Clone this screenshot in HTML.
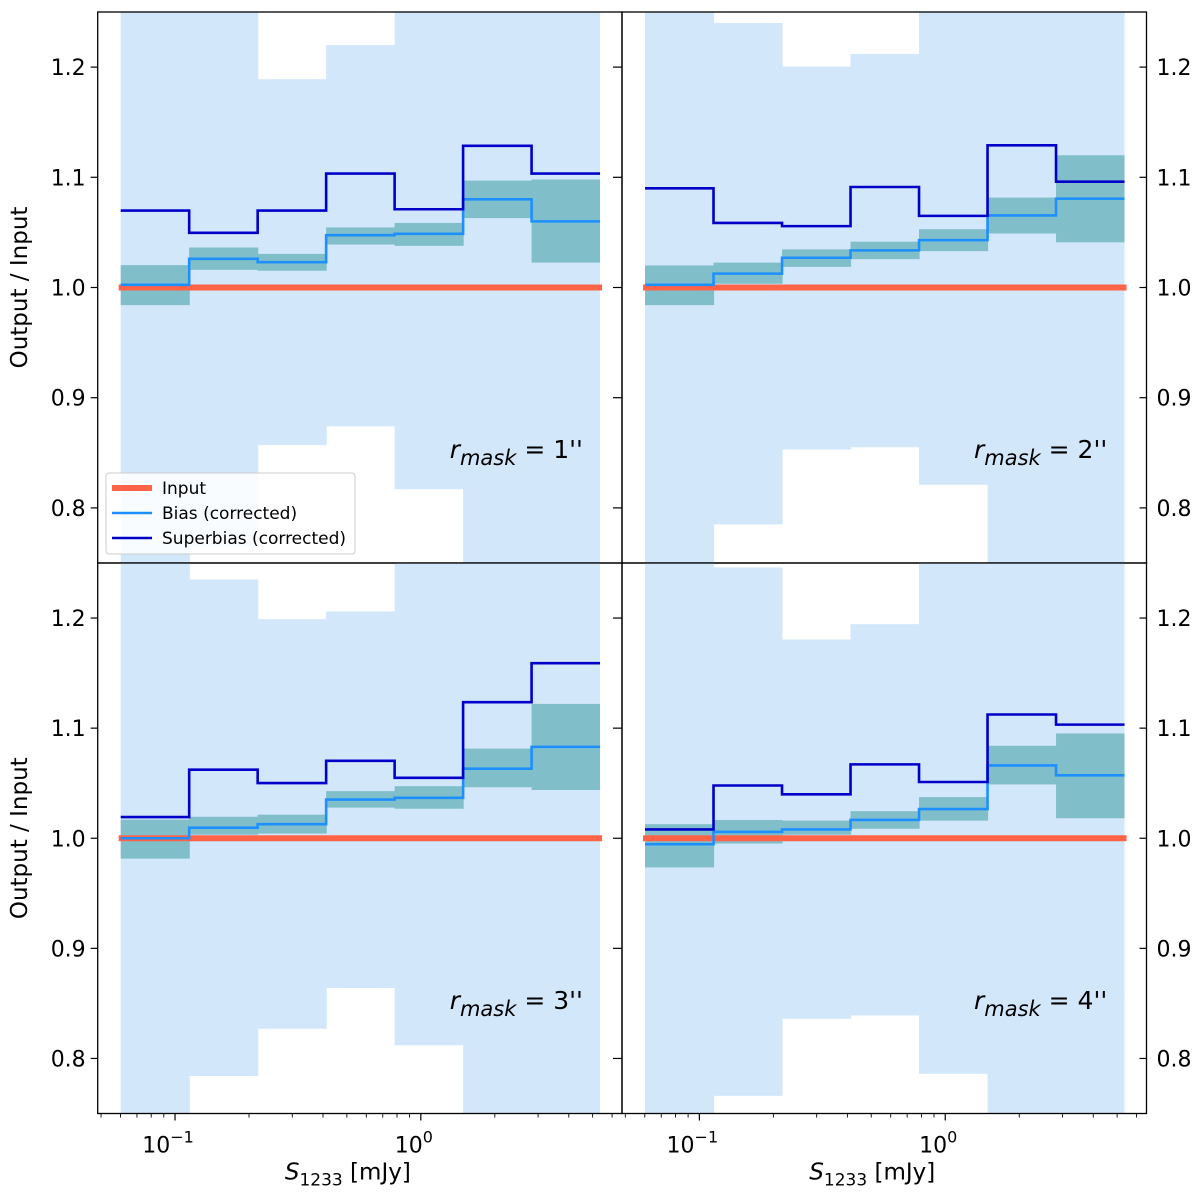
<!DOCTYPE html>
<html><head><meta charset="utf-8"><style>
html,body{margin:0;padding:0;background:#fff;}
svg{display:block;font-family:"DejaVu Sans","Liberation Sans",sans-serif;}
</style></head><body>
<svg id="fig" width="1200" height="1199" viewBox="0 0 1200 1199" xmlns="http://www.w3.org/2000/svg"></svg>
<script>
// bin edges in log10(mJy)
const binEdgesLog = [-1.221,-0.9424,-0.6638,-0.3852,-0.1066,0.172,0.4506,0.7292];
const panelLabels = ["1''","2''","3''","4''"];
// background range (lo, hi) per bin; values outside axis range are clipped
const bgLo1=[0.70,0.765,0.857,0.874,0.817,0.70,0.70];
const bgHi1=[1.30,1.30,1.189,1.220,1.30,1.30,1.30];
const bgLo2=[0.70,0.785,0.853,0.855,0.821,0.70,0.70];
const bgHi2=[1.30,1.240,1.2005,1.212,1.30,1.30,1.30];
const bgLo3=[0.70,0.784,0.827,0.864,0.812,0.70,0.70];
const bgHi3=[1.30,1.235,1.199,1.206,1.30,1.30,1.30];
const bgLo4=[0.70,0.766,0.836,0.839,0.786,0.70,0.70];
const bgHi4=[1.30,1.246,1.1805,1.1945,1.30,1.30,1.30];
// superbias
const sup1=[1.0698,1.0496,1.0698,1.1034,1.071,1.1286,1.1034];
const sup2=[1.090,1.0586,1.0557,1.0912,1.065,1.129,1.096];
const sup3=[1.0192,1.0623,1.0501,1.0703,1.0549,1.1236,1.159];
const sup4=[1.008,1.0479,1.0399,1.0671,1.0511,1.1124,1.1032];
// bias
const bias1=[1.0024,1.026,1.023,1.0475,1.0487,1.080,1.060];
const bias2=[1.0024,1.0126,1.027,1.0337,1.043,1.0654,1.0806];
const bias3=[1.000,1.0096,1.0128,1.0351,1.0367,1.0632,1.083];
const bias4=[0.9946,1.0057,1.008,1.0166,1.0265,1.0661,1.0572];
// bias error band
const bandLo1=[0.984,1.016,1.0152,1.039,1.0378,1.063,1.0226];
const bandHi1=[1.0203,1.0363,1.0305,1.0545,1.0586,1.097,1.098];
const bandLo2=[0.984,1.0034,1.0187,1.0257,1.033,1.049,1.041];
const bandHi2=[1.020,1.0226,1.0346,1.0416,1.0529,1.0816,1.120];
const bandLo3=[0.9815,1.0032,1.0042,1.0278,1.0268,1.0463,1.0438];
const bandHi3=[1.0169,1.0195,1.0214,1.0428,1.0473,1.0814,1.122];
const bandLo4=[0.9735,0.9952,1.0032,1.0086,1.016,1.0489,1.0182];
const bandHi4=[1.0128,1.0166,1.016,1.0246,1.0374,1.084,1.0952];
const yTicks=[0.8,0.9,1.0,1.1,1.2];
const yTickLabels=["0.8","0.9","1.0","1.1","1.2"];
const xMajorLog=[-1,0];
const xMajorLabels=["-1","0"];

const NS="http://www.w3.org/2000/svg";
const svg=document.getElementById('fig');
function el(tag,attrs,parent){const e=document.createElementNS(NS,tag);for(const k in attrs)e.setAttribute(k,attrs[k]);(parent||svg).appendChild(e);return e;}

const YMIN=0.75,YMAX=1.25,XMIN=-1.3146,XMAX=0.8185;
const panels=[
 {x0:97.7,x1:622,y0:12,y1:563,bgLo:bgLo1,bgHi:bgHi1,sup:sup1,bias:bias1,bl:bandLo1,bh:bandHi1,left:true,bottom:false,legend:true},
 {x0:622,x1:1146.5,y0:12,y1:563,bgLo:bgLo2,bgHi:bgHi2,sup:sup2,bias:bias2,bl:bandLo2,bh:bandHi2,left:false,bottom:false},
 {x0:97.7,x1:622,y0:563,y1:1113.5,bgLo:bgLo3,bgHi:bgHi3,sup:sup3,bias:bias3,bl:bandLo3,bh:bandHi3,left:true,bottom:true},
 {x0:622,x1:1146.5,y0:563,y1:1113.5,bgLo:bgLo4,bgHi:bgHi4,sup:sup4,bias:bias4,bl:bandLo4,bh:bandHi4,left:false,bottom:true}
];

panels.forEach((p,pi)=>{
  const g=el('g',{});
  
  
  const cid='clip'+pi;
  const cp=el('clipPath',{id:cid},g);el('rect',{x:p.x0,y:p.y0,width:p.x1-p.x0,height:p.y1-p.y0},cp);
  const X=l=>p.x0+(l-XMIN)/(XMAX-XMIN)*(p.x1-p.x0);
  const Y=v=>p.y0+(YMAX-v)/(YMAX-YMIN)*(p.y1-p.y0);
  const inner=el('g',{'clip-path':'url(#'+cid+')'},g);
  for(let i=0;i<7;i++){
    const ov=(i<6)?0.6:0;
    const r=el('rect',{x:X(binEdgesLog[i]),width:X(binEdgesLog[i+1])-X(binEdgesLog[i])+ov,y:Y(p.bgHi[i]),height:Y(p.bgLo[i])-Y(p.bgHi[i]),fill:'#d3e7fb'},inner);
    
    
  }
  for(let i=0;i<7;i++){
    const ov=(i<6)?0.6:0;
    const r=el('rect',{x:X(binEdgesLog[i]),width:X(binEdgesLog[i+1])-X(binEdgesLog[i])+ov,y:Y(p.bh[i]),height:Y(p.bl[i])-Y(p.bh[i]),fill:'#80bfca'},inner);
    
    
  }
  const inp=el('line',{x1:X(binEdgesLog[0])-2,x2:X(binEdgesLog[7])+2,y1:Y(1),y2:Y(1),stroke:'#ff6347','stroke-width':6},inner);
  
  
  function step(vals,color,name){
    let d='';
    for(let i=0;i<7;i++){d+=(i?'L':'M')+X(binEdgesLog[i])+','+Y(vals[i])+'L'+X(binEdgesLog[i+1])+','+Y(vals[i]);}
    const pa=el('path',{d:d,fill:'none',stroke:color,'stroke-width':2.6},inner);
    
    
  }
  step(p.bias,'#1e8fff','bias-line');
  step(p.sup,'#0000c8','superbias-line');
  const fr=el('rect',{x:p.x0,y:p.y0,width:p.x1-p.x0,height:p.y1-p.y0,fill:'none',stroke:'#000','stroke-width':1.3},g);
  
  
  yTicks.forEach((v,k)=>{
    const y=Y(v);
    if(p.left){
      el('line',{x1:p.x0-7,x2:p.x0,y1:y,y2:y,stroke:'#000','stroke-width':1.2},g);
      const t=el('text',{x:p.x0-12,y:y+8,'text-anchor':'end','font-size':22,fill:'#000'},g);
      t.textContent=yTickLabels[k];
      
      
    } else {
      el('line',{x1:p.x0-9,x2:p.x0,y1:y,y2:y,stroke:'#000','stroke-width':1.2},g);
      el('line',{x1:p.x1-7,x2:p.x1,y1:y,y2:y,stroke:'#000','stroke-width':1.2},g);
      const t=el('text',{x:p.x1+10,y:y+8,'text-anchor':'start','font-size':22,fill:'#000'},g);
      t.textContent=yTickLabels[k];
      
      
    }
  });
  if(p.bottom){
    for(let dec=-2;dec<=0;dec++){for(let m=1;m<10;m++){
      const l=dec+Math.log10(m); if(l<XMIN||l>XMAX)continue;
      const x=X(l); const major=(m===1);
      el('line',{x1:x,x2:x,y1:p.y1,y2:p.y1+(major?7:4),stroke:'#000','stroke-width':major?1.2:0.9},g);
    }}
    xMajorLog.forEach((l,k)=>{
      const t=el('text',{x:X(l)-7,y:p.y1+39,'text-anchor':'middle','font-size':22,fill:'#000'},g);
      t.textContent='10';
      const s=el('tspan',{dy:-10,'font-size':16},t);s.textContent=xMajorLabels[k]==='-1'?'\u22121':'0';
      
      
    });
    const xl=el('text',{x:(p.x0+p.x1)/2-12,y:p.y1+66,'text-anchor':'middle','font-size':23,fill:'#000'},g);
    
    
    const a=el('tspan',{'font-style':'italic'},xl);a.textContent='S';
    const b=el('tspan',{dy:6,'font-size':17},xl);b.textContent='1233';
    const c=el('tspan',{dy:-6},xl);c.textContent=' [mJy]';
  }
  if(p.left){
    const cy=(p.y0+p.y1)/2;
    const yl=el('text',{x:27,y:cy,'text-anchor':'middle','font-size':23,fill:'#000',transform:'rotate(-90 27 '+cy+')'},g);
    yl.textContent='Output / Input';
    
    
  }
  const an=el('text',{x:p.x0+352,y:p.y0+446,'font-size':25,fill:'#000'},g);
  
  
  const r1=el('tspan',{'font-style':'italic'},an);r1.textContent='r';
  const r2=el('tspan',{'font-style':'italic',dy:7,'font-size':21},an);r2.textContent='mask';
  const r3=el('tspan',{dy:-7},an);r3.textContent=' = '+panelLabels[pi][0]+"''";
  if(p.legend){
    const lg=el('g',{},g);
    
    
    el('rect',{x:106,y:473,width:249,height:81,rx:3,fill:'#fff','fill-opacity':0.85,stroke:'#ccc','stroke-width':1},lg);
    const items=[['Input','#ff6347',6],['Bias (corrected)','#1e8fff',2.6],['Superbias (corrected)','#0000c8',2.6]];
    items.forEach((it,k)=>{
      const yy=488+k*25;
      const e=el('g',{},lg);
      
      
      el('line',{x1:112,x2:152,y1:yy,y2:yy,stroke:it[1],'stroke-width':it[2]},e);
      const t=el('text',{x:162,y:yy+6,'font-size':17,fill:'#000'},e);t.textContent=it[0];
    });
  }
});
</script>
</body></html>
